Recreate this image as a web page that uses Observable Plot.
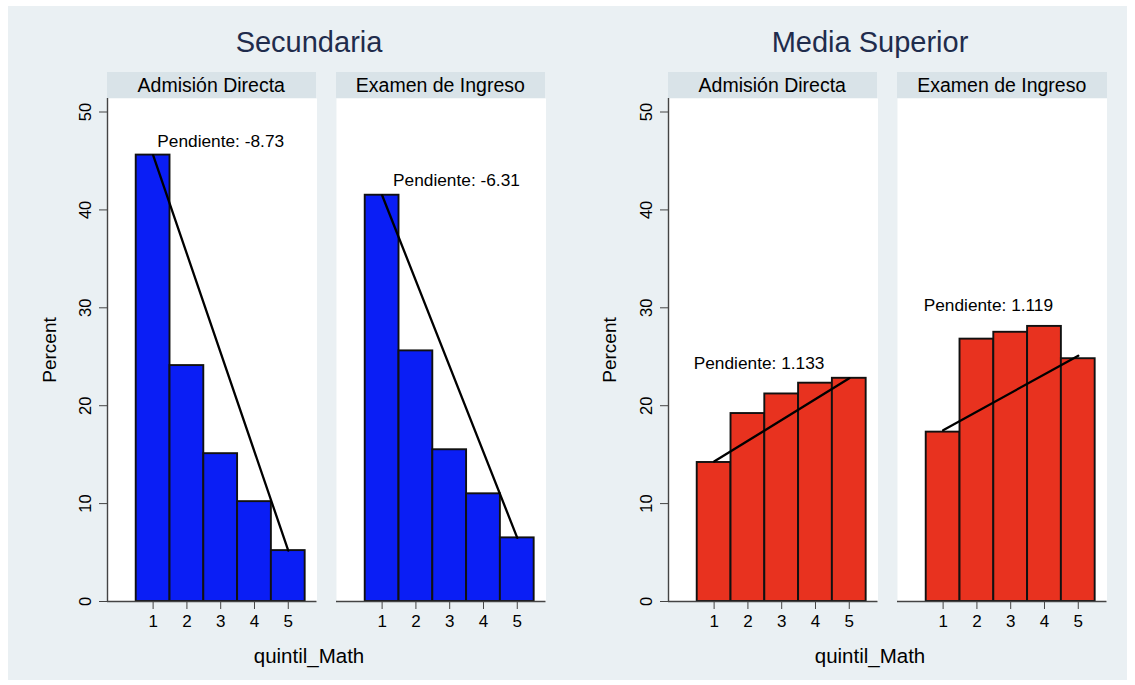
<!DOCTYPE html>
<html>
<head>
<meta charset="utf-8">
<script src="https://cdn.jsdelivr.net/npm/d3@7"></script>
<script src="https://cdn.jsdelivr.net/npm/@observablehq/plot@0.6"></script>
<style>
  body { margin: 0; background: #ffffff; font-family: "Liberation Sans", Arial, Helvetica, sans-serif; }
  #bg { position: absolute; left: 8px; top: 6px; width: 1119px; height: 674px; background: #eaf0f3; }
  .abs { position: absolute; }
  .title { font-size: 29px; color: #1f2c4c; white-space: nowrap; transform: translate(-50%, -50%); }
  .strip { background: #d9e3e8; font-size: 19.5px; color: #000; text-align: center; line-height: 26px; height: 26px; white-space: nowrap; }
  .xlab { font-size: 20.5px; color: #000; white-space: nowrap; transform: translate(-50%, -50%); }
  .ylab { font-size: 19px; color: #000; white-space: nowrap; transform: translate(-50%, -50%) rotate(-90deg); }
</style>
</head>
<body>
<div id="bg"></div>
<div id="root"></div>
<script>
// ---------------- data ----------------
const quintiles = [1, 2, 3, 4, 5];
const groupTitles = ["Secundaria", "Media Superior"];
const panelTitles = ["Admisión Directa", "Examen de Ingreso"];

// percent of students in each math quintile
const secAdmision   = [45.6, 24.1, 15.1, 10.2, 5.2];
const secExamen     = [41.5, 25.6, 15.5, 11.0, 6.5];
const mediaAdmision = [14.2, 19.2, 21.2, 22.3, 22.8];
const mediaExamen   = [17.3, 26.8, 27.5, 28.1, 24.8];

// fitted line: value at quintile 1 and quintile 5
const fitEnds = [1, 5];
const fitSecAdmision   = [45.6, 5.2];
const fitSecExamen     = [41.5, 6.5];
const fitMediaAdmision = [14.3, 22.8];
const fitMediaExamen   = [17.5, 25.1];

// slope annotations
const slopeText = ["Pendiente: -8.73", "Pendiente: -6.31", "Pendiente: 1.133", "Pendiente: 1.119"];
const slopeX = [3.0, 3.2, 2.33, 2.34];
const slopeY = [47.0, 43.0, 24.3, 30.2];

const yTicks = [0, 10, 20, 30, 40, 50];
const xLabel = "quintil_Math";
const yLabel = "Percent";

// ---------------- layout ----------------
const colors = ["#0a1ef5", "#e8321f"];
const plotTop = 98, plotBottom = 601, panelW = 209.5;
const xDomain = [-0.35, 5.85];
const yDomain = [0, 51.38];
const panelLeft = [[106.5, 335.6], [667.5, 897]];
const groupCenter = [309, 870];
const yLabelX = [50, 610];

const series = [[secAdmision, secExamen], [mediaAdmision, mediaExamen]];
const fits = [[fitSecAdmision, fitSecExamen], [fitMediaAdmision, fitMediaExamen]];

const root = document.getElementById("root");
function addDiv(cls, text, style) {
  const d = document.createElement("div");
  d.className = "abs " + cls;
  d.textContent = text;
  Object.assign(d.style, style);
  root.appendChild(d);
  return d;
}

groupTitles.forEach((g, gi) => {
  addDiv("title", g, {left: groupCenter[gi] + "px", top: "42px"});
  addDiv("xlab", xLabel, {left: groupCenter[gi] + "px", top: "656px"});
  addDiv("ylab", yLabel, {left: yLabelX[gi] + "px", top: ((plotTop + plotBottom) / 2) + "px"});

  panelTitles.forEach((p, pi) => {
    const first = pi === 0;
    const k = gi * 2 + pi;
    const left = panelLeft[gi][pi];
    addDiv("strip", p, {left: left + "px", top: "72px", width: panelW + "px"});

    const bars = quintiles.map((q, i) => ({q, v: series[gi][pi][i]}));
    const fit = fitEnds.map((q, i) => ({q, v: fits[gi][pi][i]}));
    const marginLeft = first ? 40 : 0;
    const marginBottom = 40;

    const chart = Plot.plot({
      width: marginLeft + panelW,
      height: (plotBottom - plotTop) + marginBottom,
      marginLeft, marginRight: 0, marginTop: 0, marginBottom,
      style: {background: "transparent", fontFamily: "'Liberation Sans', Arial, Helvetica, sans-serif", color: "#000", overflow: "visible"},
      x: {domain: xDomain, axis: null},
      y: {domain: yDomain, axis: null},
      marks: [
        Plot.frame({fill: "white", stroke: null}),
        Plot.rectY(bars, {x1: d => d.q - 0.5, x2: d => d.q + 0.5, y: "v", fill: colors[gi], stroke: "#111", strokeWidth: 1.9}),
        Plot.line(fit, {x: "q", y: "v", stroke: "#000", strokeWidth: 2.3}),
        Plot.text([slopeText[k]], {x: () => slopeX[k], y: () => slopeY[k], text: d => d, fontSize: 17.3, fill: "#000"}),
        Plot.ruleY([0], {stroke: "#444", strokeWidth: 1.4}),
        Plot.axisX({ticks: quintiles, tickSize: 8, tickPadding: 5, fontSize: 17, label: null, stroke: "#444", tickFormat: d => String(d)}),
        first ? Plot.ruleX([xDomain[0]], {stroke: "#444", strokeWidth: 1.4}) : null,
        first ? Plot.axisY({ticks: yTicks, tickSize: 8, tickPadding: 8.5, tickRotate: -90, fontSize: 16.5, label: null, stroke: "#444"}) : null
      ]
    });
    chart.style.position = "absolute";
    chart.style.left = (left - marginLeft) + "px";
    chart.style.top = plotTop + "px";
    root.appendChild(chart);
  });
});
</script>
</body>
</html>
